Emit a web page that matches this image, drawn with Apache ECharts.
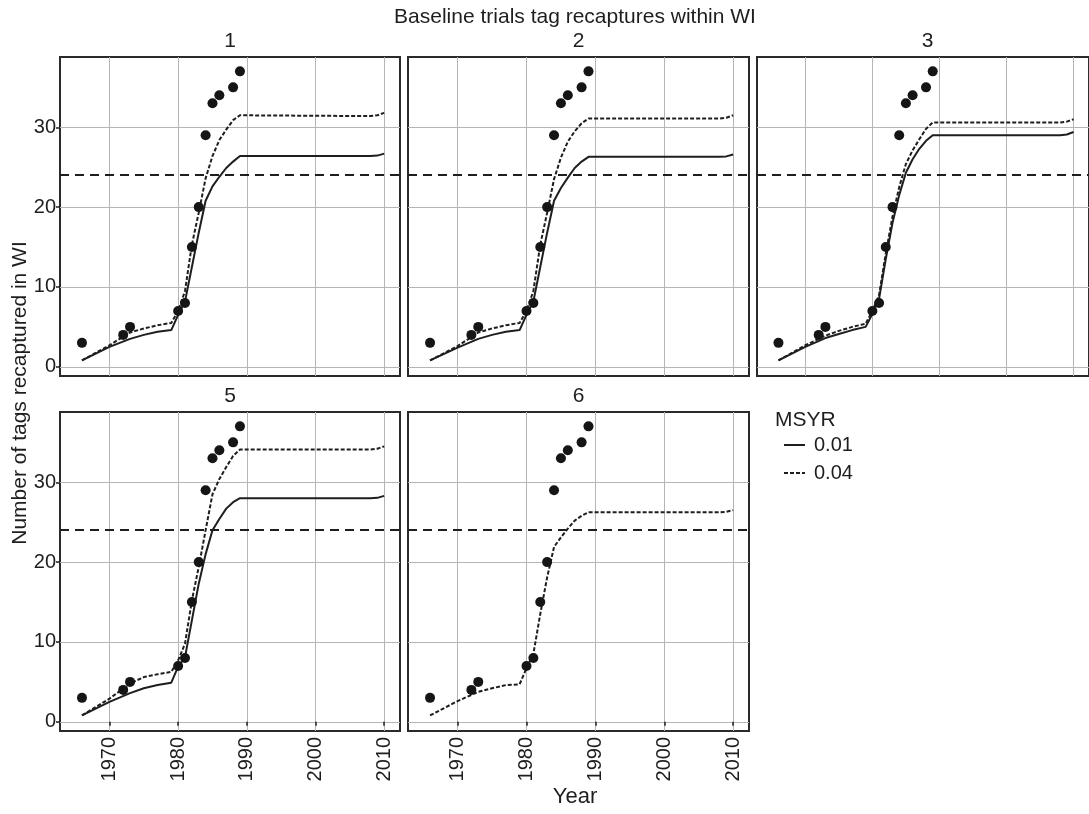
<!DOCTYPE html>
<html>
<head>
<meta charset="utf-8">
<script src="https://cdn.jsdelivr.net/npm/echarts@6/dist/echarts.min.js"></script>
<style>
html,body{margin:0;padding:0;background:#fff;}
#chart{width:1089px;height:814px;}
</style>
</head>
<body>
<div id="chart"></div>
<script>
// ---------------- DATA ----------------
const panelNames = ['1', '2', '3', '5', '6'];
const obsYears = [1966, 1972, 1973, 1980, 1981, 1982, 1983, 1984, 1985, 1986, 1988, 1989];
const obsValues = [3, 4, 5, 7, 8, 15, 20, 29, 33, 34, 35, 37];
const modelYears = [1966, 1970, 1973, 1975, 1977, 1979, 1980, 1981, 1982, 1983, 1984, 1985, 1986, 1987, 1988, 1989, 2008, 2009, 2010];
const p1_msyr01 = [0.8, 2.5, 3.5, 4.0, 4.4, 4.6, 6.5, 8.2, 12.5, 16.8, 20.8, 22.6, 23.8, 24.9, 25.7, 26.4, 26.4, 26.45, 26.7];
const p1_msyr04 = [0.8, 2.7, 4.3, 4.8, 5.2, 5.5, 7.0, 9.5, 15.3, 19.3, 23.6, 26.4, 28.4, 29.7, 30.9, 31.5, 31.4, 31.5, 31.8];
const p2_msyr01 = [0.8, 2.4, 3.5, 4.0, 4.4, 4.6, 6.5, 8.2, 12.5, 16.8, 20.8, 22.4, 23.7, 24.9, 25.7, 26.3, 26.3, 26.35, 26.6];
const p2_msyr04 = [0.8, 2.6, 4.3, 4.8, 5.2, 5.5, 7.0, 9.5, 15.3, 19.3, 23.5, 26.2, 28.2, 29.5, 30.5, 31.1, 31.1, 31.2, 31.5];
const p3_msyr01 = [0.8, 2.5, 3.6, 4.1, 4.6, 5.0, 6.6, 8.5, 13.5, 18.0, 21.5, 24.3, 26.0, 27.3, 28.3, 29.0, 29.0, 29.1, 29.4];
const p3_msyr04 = [0.8, 2.7, 3.9, 4.5, 5.0, 5.4, 7.0, 9.0, 14.2, 18.8, 22.5, 25.4, 27.1, 28.5, 29.8, 30.6, 30.6, 30.7, 31.0];
const p5_msyr01 = [0.8, 2.5, 3.6, 4.2, 4.6, 4.9, 6.9, 8.1, 12.7, 17.3, 21.0, 24.0, 25.4, 26.7, 27.5, 28.0, 28.0, 28.05, 28.3];
const p5_msyr04 = [0.8, 2.9, 4.8, 5.6, 5.95, 6.25, 7.7, 9.8, 15.2, 19.4, 24.0, 28.5, 30.4, 31.9, 33.3, 34.1, 34.1, 34.2, 34.5];
const p6_msyr04 = [0.8, 2.6, 3.75, 4.2, 4.6, 4.7, 6.7, 8.5, 13.5, 18.1, 21.9, 23.1, 24.2, 25.2, 25.8, 26.25, 26.25, 26.3, 26.5];
const msyr01 = [p1_msyr01, p2_msyr01, p3_msyr01, p5_msyr01, null];
const msyr04 = [p1_msyr04, p2_msyr04, p3_msyr04, p5_msyr04, p6_msyr04];
const targetLevel = 24;
const xTickValues = [1970, 1980, 1990, 2000, 2010];
const yTickValues = [0, 10, 20, 30];
const legendNames = ['0.01', '0.04'];

// ---------------- LAYOUT ----------------
const XMIN = 1962.8, XMAX = 2012.3, YMIN = -1.15, YMAX = 38.8;
const grids = [
  {left: 60, top: 57, width: 340, height: 319},
  {left: 408, top: 57, width: 341, height: 319},
  {left: 757, top: 57, width: 341, height: 319},
  {left: 60, top: 412, width: 340, height: 319},
  {left: 408, top: 412, width: 341, height: 319}
];
const showY = [true, false, false, true, false];
const showX = [false, false, false, true, true];
const ink = '#1e1e1e';
const gridCol = '#b5b5b5';
const FONT = 'Liberation Sans, Arial, sans-serif';

function pairs(xs, ys) { return xs.map((x, i) => [x, ys[i]]); }

const xAxes = [], yAxes = [], series = [], graphics = [];
grids.forEach((g, i) => {
  xAxes.push({
    type: 'value', gridIndex: i, min: XMIN, max: XMAX,
    axisLine: {show: false},
    splitLine: {show: true, lineStyle: {color: gridCol, width: 1}},
    axisTick: {show: showX[i], length: 4, lineStyle: {color: ink, width: 1.5}, customValues: xTickValues},
    axisLabel: {show: showX[i], customValues: xTickValues, rotate: 90, fontSize: 20, color: ink,
      fontFamily: FONT, margin: 6, formatter: v => String(v)}
  });
  yAxes.push({
    type: 'value', gridIndex: i, min: YMIN, max: YMAX,
    axisLine: {show: false},
    splitLine: {show: true, lineStyle: {color: gridCol, width: 1}},
    axisTick: {show: showY[i], length: 4, lineStyle: {color: ink, width: 1.5}, customValues: yTickValues},
    axisLabel: {show: showY[i], customValues: yTickValues, fontSize: 20, color: ink,
      fontFamily: FONT, margin: 4, formatter: v => String(v)}
  });
  if (msyr01[i]) {
    series.push({
      name: legendNames[0], type: 'line', xAxisIndex: i, yAxisIndex: i,
      data: pairs(modelYears, msyr01[i]), symbol: 'none', silent: true, color: ink,
      itemStyle: {color: ink}, lineStyle: {color: ink, width: 2, type: 'solid'}, z: 3
    });
  }
  series.push({
    name: legendNames[1], type: 'line', xAxisIndex: i, yAxisIndex: i,
    data: pairs(modelYears, msyr04[i]), symbol: 'none', silent: true, color: ink,
    itemStyle: {color: ink}, lineStyle: {color: ink, width: 2, type: [4, 2]}, z: 3
  });
  series.push({
    name: 'obs', type: 'scatter', xAxisIndex: i, yAxisIndex: i,
    data: pairs(obsYears, obsValues), symbol: 'circle', symbolSize: 10,
    itemStyle: {color: '#151515', opacity: 1}, silent: true, z: 4,
    markLine: {
      silent: true, symbol: 'none', label: {show: false},
      lineStyle: {color: ink, width: 2, type: [9, 6]},
      data: [{yAxis: targetLevel}]
    }
  });
  graphics.push({
    type: 'text', x: g.left + g.width / 2, y: g.top - 16,
    style: {text: panelNames[i], fontSize: 21, fill: ink, textAlign: 'center', textVerticalAlign: 'middle', fontFamily: FONT}
  });
});

graphics.push({
  type: 'text', x: 575, y: 17,
  style: {text: 'Baseline trials tag recaptures within WI', fontSize: 21, fill: ink, textAlign: 'center',
    textVerticalAlign: 'middle', fontFamily: FONT}
});
graphics.push({
  type: 'text', x: 20, y: 393, rotation: Math.PI / 2,
  style: {text: 'Number of tags recaptured in WI', fontSize: 21, fill: ink, textAlign: 'center',
    textVerticalAlign: 'middle', fontFamily: FONT}
});
graphics.push({
  type: 'text', x: 575, y: 797,
  style: {text: 'Year', fontSize: 22, fill: ink, textAlign: 'center', textVerticalAlign: 'middle', fontFamily: FONT}
});
graphics.push({
  type: 'text', x: 775, y: 420,
  style: {text: 'MSYR', fontSize: 21, fill: ink, textAlign: 'left', textVerticalAlign: 'middle', fontFamily: FONT}
});

const chart = echarts.init(document.getElementById('chart'), null, {renderer: 'canvas'});
chart.setOption({
  animation: false,
  backgroundColor: '#fff',
  grid: grids.map(g => Object.assign({show: true, borderColor: '#2a2a2a', borderWidth: 2, backgroundColor: 'transparent', containLabel: false}, g)),
  xAxis: xAxes,
  yAxis: yAxes,
  legend: {
    data: legendNames, orient: 'vertical', left: 778, top: 430,
    itemWidth: 21, itemHeight: 12, itemGap: 8, selectedMode: false,
    itemStyle: {opacity: 0},
    lineStyle: {color: ink, width: 2},
    textStyle: {fontSize: 20, color: ink, fontFamily: FONT, padding: [0, 0, 0, 4]}
  },
  graphic: graphics,
  series: series
});
</script>
</body>
</html>
